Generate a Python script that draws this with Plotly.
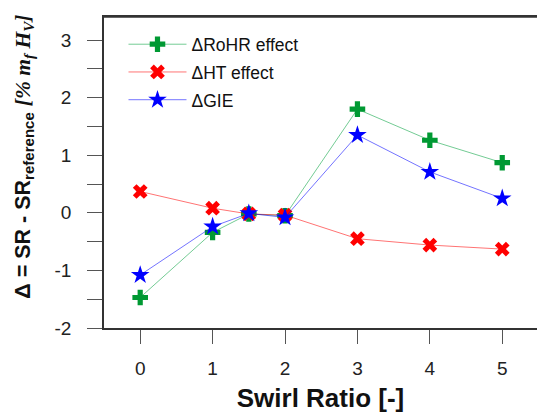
import plotly.graph_objects as go

swirl = [0, 1, 1.5, 2, 3, 4, 5]
rohr = [-1.47, -0.34, -0.02, -0.05, 1.80, 1.26, 0.87]
ht = [0.37, 0.08, -0.02, -0.04, -0.45, -0.56, -0.63]
gie = [-1.08, -0.24, -0.01, -0.08, 1.35, 0.71, 0.25]

x_ticks = [0, 1, 2, 3, 4, 5]
y_ticks = [-2, -1, 0, 1, 2, 3]
y_labels = ["-2", "-1", "0", "1", "2", "3"]

font = "Liberation Sans, Arial, sans-serif"

fig = go.Figure()
fig.add_trace(go.Scatter(x=swirl, y=rohr, name="ΔRoHR effect", mode="lines+markers", legendgroup="a",
                         line=dict(color="rgba(0,160,60,0.55)", width=1),
                         marker=dict(symbol="cross", size=13, color="#009933")))
fig.add_trace(go.Scatter(x=swirl, y=ht, name="ΔHT effect", mode="lines+markers", legendgroup="b",
                         line=dict(color="rgba(255,0,0,0.55)", width=1),
                         marker=dict(symbol="x", size=13, color="#ff0000")))
fig.add_trace(go.Scatter(x=swirl, y=gie, name="ΔGIE", mode="lines+markers", legendgroup="c",
                         line=dict(color="rgba(0,0,255,0.55)", width=1),
                         marker=dict(symbol="star", size=14, color="#0000ff")))

ytitle = ("<b>Δ = SR - SR<sub>reference</sub> "
          "<span style=\"font-family:'Liberation Serif', serif\"><i>[% m<sub>f</sub> H<sub>V</sub>]</i></span></b>")

fig.add_annotation(text=ytitle, textangle=-90, xref="paper", yref="paper",
                   x=-0.183, y=0.55, xanchor="center", yanchor="middle", showarrow=False,
                   font=dict(size=21.5, family=font, color="#111111"))

fig.add_shape(type="line", xref="paper", yref="paper", x0=0, x1=1, y0=1, y1=1,
              line=dict(color="#333333", width=1.5))

fig.update_layout(
    width=537, height=413,
    margin=dict(l=104, r=0, t=17, b=85),
    paper_bgcolor="white", plot_bgcolor="white",
    font=dict(family=font, color="#222222"),
    showlegend=True,
    legend=dict(x=0.045, y=0.97, xanchor="left", yanchor="top", traceorder="grouped",
                bgcolor="rgba(0,0,0,0)", font=dict(size=17.5, family=font, color="#111111"),
                tracegroupgap=2, itemwidth=58),
    xaxis=dict(range=[-0.5, 5.48], tickvals=x_ticks, ticks="outside", ticklen=14,
               tickcolor="#555555", showline=True, linecolor="#333333", linewidth=1.5,
               mirror=True, showgrid=False, zeroline=False,
               tickfont=dict(size=19, family=font, color="#222222"),
               ticklabelstandoff=8,
               title=dict(text="<b>Swirl Ratio [-]</b>", font=dict(size=26, family=font, color="#111111"),
                          standoff=12)),
    yaxis=dict(range=[-2, 3.4], tickvals=y_ticks, ticktext=y_labels, ticks="outside", ticklen=15,
               tickcolor="#555555", showline=True, linecolor="#333333", linewidth=1.5,
               showgrid=False, zeroline=False,
               minor=dict(dtick=0.5, tick0=0, ticks="outside", ticklen=15, tickcolor="#555555"),
               tickfont=dict(size=19, family=font, color="#222222"),
               ticklabelstandoff=12),
)

fig.write_html("out.html", config={"displayModeBar": False},
               post_script="document.body.style.margin='0px';")
